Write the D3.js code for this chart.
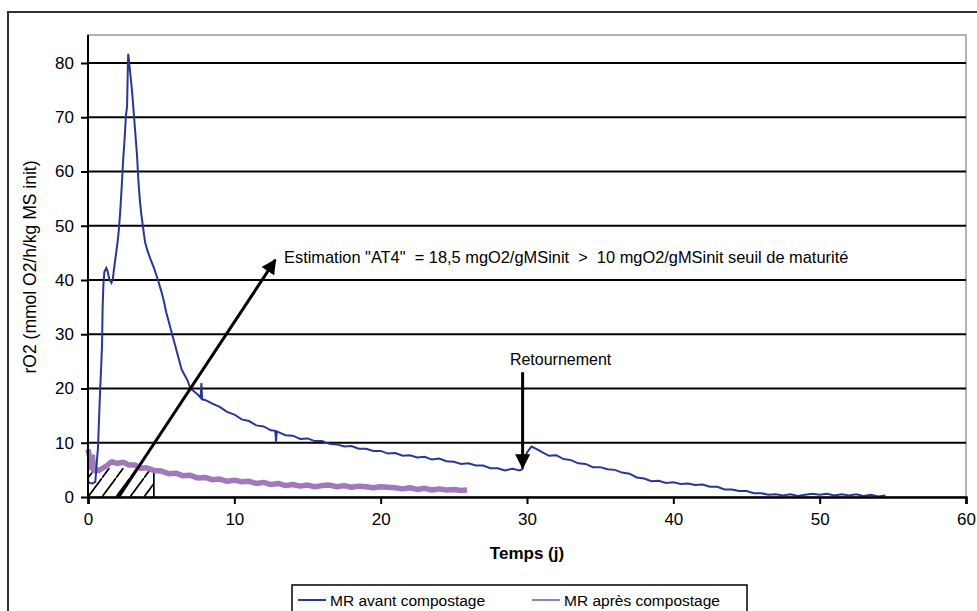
<!DOCTYPE html>
<html><head><meta charset="utf-8">
<script src="https://cdn.jsdelivr.net/npm/d3@7"></script>
<style>
body{margin:0;background:#fff;}
svg text{font-family:Arial,"Liberation Sans",sans-serif;fill:#000;}
</style></head>
<body>
<svg id="chart" width="977" height="611"></svg>
<script>
// ---- data ----
const xTicks = [0,10,20,30,40,50,60];
const yTicks = [0,10,20,30,40,50,60,70,80];
const seriesNames = ["MR avant compostage","MR après compostage"];
const avantX = [0,0.1,0.3,0.5,0.55,0.62,0.68,0.75,0.82,0.9,0.96,1.0,1.05,1.12,1.25,1.35,1.45,1.6,1.7,1.8,1.9,2.0,2.1,2.2,2.3,2.4,2.5,2.6,2.67,2.72,2.75,2.8,2.87,2.95,3.05,3.15,3.25,3.35,3.45,3.55,3.65,3.77,3.9,4.05,4.25,4.5,4.78,5.0,5.15,5.35,5.6,5.8,6.0,6.2,6.4,6.6,6.8,7.0,7.5,7.7,7.75,7.8,8.0,8.5,9.0,9.5,10.0,10.5,11.0,11.5,12.0,12.5,12.8,12.85,12.9,13.5,14.0,14.5,15.0,15.5,16.0,16.5,17.0,17.5,18.0,18.5,19.0,19.5,20.0,20.5,21.0,21.5,22.0,22.5,23.0,23.5,24.0,24.5,25.0,25.5,26.0,26.5,27.0,27.5,28.0,28.5,29.0,29.5,29.7,29.8,30.0,30.3,30.6,31.0,31.5,32.0,32.5,33.0,33.5,34.0,34.5,35.0,35.5,36.0,36.5,37.0,37.5,38.0,38.5,39.0,39.5,40.0,40.5,41.0,41.5,42.0,42.5,43.0,43.5,44.0,44.5,45.0,45.5,46.0,46.5,47.0,47.5,48.0,48.5,49.0,49.5,50.0,50.5,51.0,51.5,52.0,52.5,53.0,53.5,54.0,54.5];
const avantY = [3.0,2.6,2.5,2.8,4.5,7.0,9.0,14,19,24,28,35,39,41.5,42.2,41.5,40.2,39.5,40.3,42.5,44.5,46.5,49,52.5,57,62,66,70.5,72,79,81.7,80.5,78.5,76.5,73.5,70,66.5,63,58,54.5,52,49.5,47,45.5,44,42.3,40,38,36.5,34,31.5,29.5,27.5,25.5,23.5,22.5,21.5,20.0,18.9,18.3,21.0,18.0,17.9,17.2,16.6,15.7,15.2,14.3,14.0,13.2,13.0,12.3,12.2,10.2,12.1,11.4,11.3,10.7,10.8,10.3,10.3,9.8,9.7,9.3,9.4,8.9,8.9,8.5,8.5,8.0,8.1,7.6,7.7,7.3,7.4,6.9,7.1,6.6,6.5,6.1,6.2,5.8,5.8,5.3,5.3,4.9,5.2,4.9,5.2,7.0,8.2,9.3,8.9,8.3,7.6,7.7,7.0,6.8,6.2,6.1,5.5,5.5,5.1,5.0,4.5,4.3,3.6,3.4,2.9,3.0,2.6,2.7,2.4,2.5,2.2,2.3,1.9,1.9,1.4,1.4,1.1,1.1,0.7,0.7,0.4,0.5,0.3,0.5,0.2,0.4,0.6,0.4,0.6,0.3,0.5,0.3,0.5,0.2,0.4,0.1,0.3];
const apresX = [0,0.1,0.2,0.3,0.4,0.5,0.7,1.0,1.3,1.6,2.0,2.4,2.8,3.2,3.6,4.0,4.5,5.0,5.5,6.0,6.5,7.0,7.5,8.0,8.5,9.0,9.5,10.0,10.5,11.0,11.5,12.0,12.5,13.0,13.5,14.0,14.5,15.0,15.5,16.0,16.5,17.0,17.5,18.0,18.5,19.0,19.5,20.0,20.5,21.0,21.5,22.0,22.5,23.0,23.5,24.0,24.5,25.0,25.5,25.9];
const apresY = [8.8,7.5,5.0,7.8,4.5,5.2,4.8,5.3,5.8,6.5,6.2,6.4,5.9,5.9,5.3,5.4,4.9,4.8,4.3,4.4,3.9,4.0,3.5,3.6,3.2,3.3,2.9,3.1,2.8,2.9,2.5,2.7,2.3,2.5,2.1,2.3,2.0,2.2,1.9,2.1,2.2,1.9,2.1,1.8,2.0,1.9,1.7,1.9,1.8,1.7,1.5,1.7,1.4,1.6,1.3,1.5,1.3,1.4,1.2,1.3];
// hatched area (AT4 integration window)
const hatchX = [0, 4.5];
const hatchTop = 5.3;
// annotations
const at4Label = 'Estimation "AT4"  = 18,5 mgO2/gMSinit  >  10 mgO2/gMSinit seuil de maturité';
const at4Arrow = {x1:2.1, y1:0, x2:12.8, y2:43.7};
const retLabel = "Retournement";
const retArrow = {x:29.7, y1:23, y2:5.4};

// ---- layout ----
const svg = d3.select("#chart");
const L = 88, R = 966, T = 35, B = 497;
const x = d3.scaleLinear().domain([0,60]).range([L,R]);
const y = d3.scaleLinear().domain([0,80]).range([B,63]);
const blue = "#2a3790", purple = "#a178bb";

// outer frame
svg.append("rect").attr("x",8).attr("y",12).attr("width",1100).attr("height",1100)
  .attr("fill","none").attr("stroke","#333").attr("stroke-width",2);
// plot frame
svg.append("rect").attr("x",L).attr("y",T).attr("width",R-L).attr("height",B-T)
  .attr("fill","#fff").attr("stroke","#9a9a9a").attr("stroke-width",1.5);

// gridlines
svg.append("g").selectAll("line").data(yTicks.filter(d=>d>0)).join("line")
  .attr("x1",L).attr("x2",R).attr("y1",d=>y(d)).attr("y2",d=>y(d))
  .attr("stroke","#000").attr("stroke-width",2);

// hatch pattern
const defs = svg.append("defs");
const pat = defs.append("pattern").attr("id","hatch").attr("patternUnits","userSpaceOnUse")
  .attr("width",14).attr("height",19).attr("x",x(0)).attr("y",y(0));
pat.append("line").attr("x1",0).attr("y1",19).attr("x2",14).attr("y2",0)
  .attr("stroke","#000").attr("stroke-width",1.7);
pat.append("line").attr("x1",-1).attr("y1",0.5).attr("x2",0.5).attr("y2",-1.5)
  .attr("stroke","#000").attr("stroke-width",1.7);
pat.append("line").attr("x1",13.5).attr("y1",20.5).attr("x2",15).attr("y2",18.5)
  .attr("stroke","#000").attr("stroke-width",1.7);
defs.append("marker").attr("id","arr").attr("viewBox","0 0 10 10").attr("refX",9).attr("refY",5)
  .attr("markerWidth",5).attr("markerHeight",5).attr("orient","auto-start-reverse")
  .append("path").attr("d","M0,0 L10,5 L0,10 z").attr("fill","#000");

svg.append("rect").attr("x",x(hatchX[0])).attr("y",y(hatchTop))
  .attr("width",x(hatchX[1])-x(hatchX[0])).attr("height",y(0)-y(hatchTop))
  .attr("fill","url(#hatch)");
svg.append("line").attr("x1",x(hatchX[1])).attr("x2",x(hatchX[1]))
  .attr("y1",y(0)).attr("y2",y(hatchTop)).attr("stroke","#000").attr("stroke-width",1.7);

// series
const line = d3.line().x(d=>x(d[0])).y(d=>y(d[1]));
svg.append("path").datum(apresX.map((v,i)=>[v,apresY[i]]))
  .attr("d",line).attr("fill","none").attr("stroke",purple).attr("stroke-width",5.5)
  .attr("stroke-linejoin","bevel");
svg.append("path").datum(avantX.map((v,i)=>[v,avantY[i]]))
  .attr("d",line).attr("fill","none").attr("stroke",blue).attr("stroke-width",2);

// axes
const gx = svg.append("g").attr("transform",`translate(0,${B})`)
  .call(d3.axisBottom(x).tickValues(xTicks).tickSize(7).tickPadding(9));
const gy = svg.append("g").attr("transform",`translate(${L},0)`)
  .call(d3.axisLeft(y).tickValues(yTicks).tickSize(7).tickPadding(7));
[gx,gy].forEach(g=>{
  g.select(".domain").attr("stroke","#000").attr("stroke-width",2.5);
  g.selectAll(".tick line").attr("stroke","#000").attr("stroke-width",2);
  g.selectAll(".tick text").attr("font-size",17).attr("font-family","Arial, 'Liberation Sans', sans-serif").attr("fill","#000");
});
gy.select(".domain").attr("d",`M0,${T}V${B}`).attr("stroke-width",2);

// axis titles
svg.append("text").attr("x",527).attr("y",559).attr("text-anchor","middle")
  .attr("font-size",17).attr("font-weight","bold").text("Temps (j)");
svg.append("text").attr("transform","translate(36,267) rotate(-90)").attr("text-anchor","middle")
  .attr("font-size",17.5).text("rO2 (mmol O2/h/kg MS init)");

// annotations
svg.append("line").attr("x1",x(at4Arrow.x1)).attr("y1",y(at4Arrow.y1))
  .attr("x2",x(at4Arrow.x2)).attr("y2",y(at4Arrow.y2))
  .attr("stroke","#000").attr("stroke-width",3).attr("marker-end","url(#arr)");
svg.append("text").attr("x",284).attr("y",263).attr("font-size",16.4)
  .style("white-space","pre").text(at4Label);
svg.append("line").attr("x1",x(retArrow.x)).attr("y1",y(retArrow.y1))
  .attr("x2",x(retArrow.x)).attr("y2",y(retArrow.y2))
  .attr("stroke","#000").attr("stroke-width",3).attr("marker-end","url(#arr)");
svg.append("text").attr("x",x(retArrow.x)+38).attr("y",365).attr("text-anchor","middle")
  .attr("font-size",16).text(retLabel);

// legend
const lg = svg.append("g");
lg.append("rect").attr("x",292).attr("y",585).attr("width",455).attr("height",60)
  .attr("fill","#fff").attr("stroke","#000").attr("stroke-width",1.5);
const items = [{n:seriesNames[0],c:blue,x0:298},{n:seriesNames[1],c:purple,x0:532}];
items.forEach(it=>{
  lg.append("line").attr("x1",it.x0).attr("x2",it.x0+28).attr("y1",600).attr("y2",600)
    .attr("stroke",it.c).attr("stroke-width",2);
  lg.append("text").attr("x",it.x0+32).attr("y",606).attr("font-size",15.5).text(it.n);
});
</script>
</body></html>
